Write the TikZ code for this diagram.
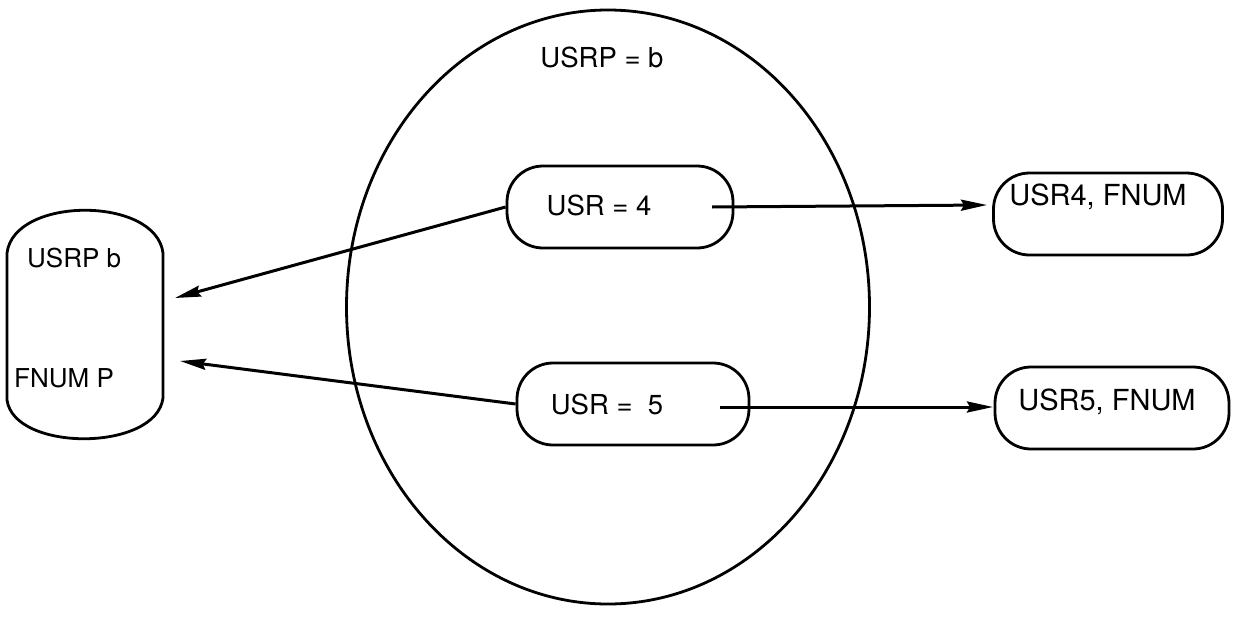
\documentclass[tikz,border=0pt]{standalone}
\usepackage{fontspec}
\setmainfont{TeX Gyre Heros}
\usetikzlibrary{arrows.meta,shapes.misc,shapes.geometric}
\begin{document}
\begin{tikzpicture}[x=1pt,y=-1pt,
  outline/.style={draw, line width=2.8pt},
  pill/.style={outline, rectangle, rounded corners=36pt, inner sep=0pt, minimum height=82pt},
  lbl/.style={font=\fontsize{27.5}{30}\selectfont, inner sep=0pt},
  rlbl/.style={font=\fontsize{29}{32}\selectfont, inner sep=0pt},
  slbl/.style={font=\fontsize{26}{29}\selectfont, inner sep=0pt},
  arr/.style={line width=3pt, -{Stealth[length=26pt,width=11pt,inset=3pt]}}]
\useasboundingbox (0,0) rectangle (1237,616);

% big ellipse
\node[outline, ellipse, minimum width=523pt, minimum height=594pt, inner sep=0pt] (ell) at (608,307) {};
\node[lbl] (ellt) at (602,57) {USRP = b};

% left store
\node[minimum width=156pt, minimum height=225pt, inner sep=0pt] (store) at (85,325) {};
\draw[outline] (7,253) -- (7,400) .. controls (14,452) and (156,452) .. (163,398)
  -- (163,253) .. controls (156,196) and (14,196) .. (7,253) -- cycle;
\node[slbl, anchor=west] (st1) at (27,258) {USRP b};
\node[slbl, anchor=west] (st2) at (14,378) {FNUM P};
\coordinate (t1) at (175,298);
\coordinate (t2) at (180,361);

% inner pills
\node[pill, minimum width=226pt] (u4) at (620,207) {};
\node[lbl] (u4t) at (599,205) {USR = 4};
\node[pill, minimum width=232pt] (u5) at (633,404) {};
\node[lbl] (u5t) at (607,404) {USR =\ \ 5};

% right pills
\node[pill, minimum width=229pt] (r4) at (1108,214) {};
\node[rlbl] (r4t) at (1098,197) {USR4, FNUM};
\node[pill, minimum width=234pt] (r5) at (1112,408) {};
\node[rlbl] (r5t) at (1107,402) {USR5, FNUM};

% connector coordinates
\coordinate (s4) at (712,207);
\coordinate (e4) at (987,205);
\coordinate (s5) at (720,407);
\coordinate (e5) at (993,407);

\draw[arr] (u4.west) -- (t1);
\draw[arr] (u5.west) -- (t2);
\draw[arr] (s4) -- (e4);
\draw[arr] (s5) -- (e5);
\end{tikzpicture}
\end{document}
